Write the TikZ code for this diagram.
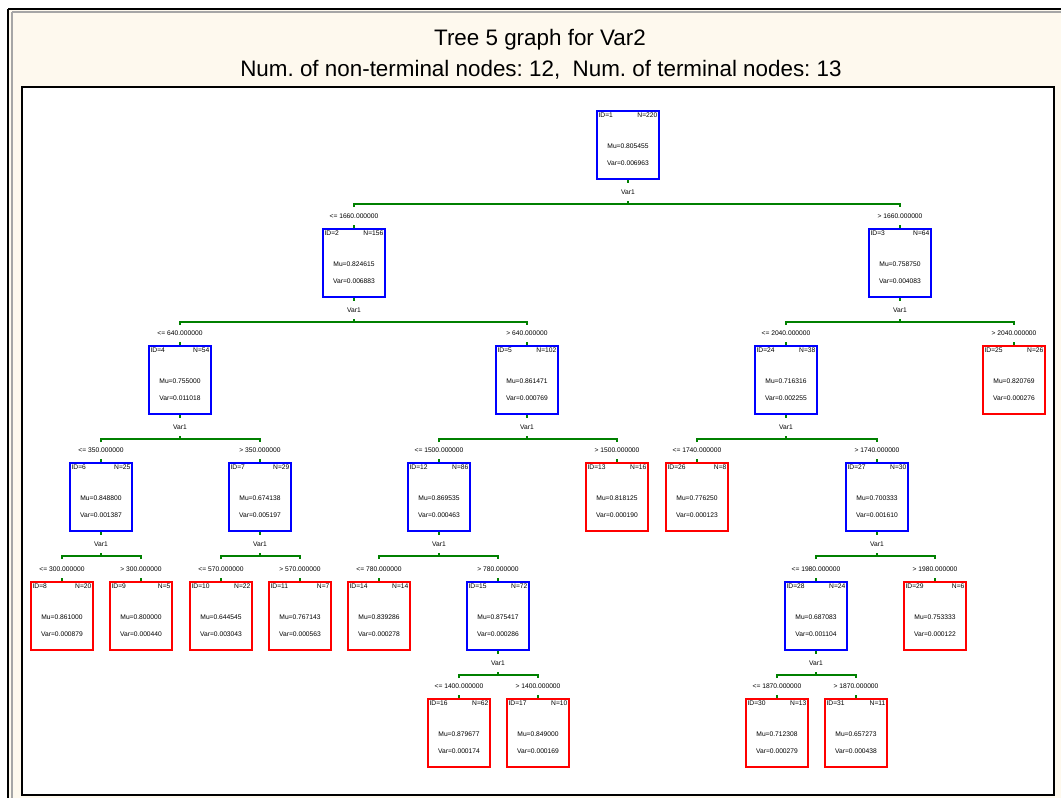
\documentclass[tikz,border=0pt]{standalone}
\usepackage{fontspec}
\setmainfont{Liberation Sans}
\frenchspacing
\definecolor{cream}{RGB}{254,249,238}
\definecolor{edgegreen}{RGB}{0,128,0}

% one tree node: name, x, y, style, id, n, mu, var
\newcommand{\treebox}[8]{%
  \node[#4] (#1) at (#2,#3) {};
  \node[tag, anchor=north west] (#1id) at ([shift={(0.6pt,-0.9pt)}]#1.north west) {ID=#5};
  \node[tag, anchor=north east] (#1n) at ([shift={(-0.6pt,-0.9pt)}]#1.north east) {N=#6};
  \node[tag] (#1mu) at ([yshift=-0.5pt]#1.center) {Mu=#7};
  \node[tag] (#1var) at ([yshift=-9pt]#1.center) {Var=#8};
}
% one split: parent, left child, right child, left cut, right cut
\newcommand{\treesplit}[5]{%
  \coordinate (#1bar) at ([yshift=-12pt]#1.south);
  \draw[conn] (#1.south) -- ++(0,3);
  \node[tag] (#1var1) at ([yshift=-6pt]#1.south) {Var1};
  \draw[conn] (#2 |- #1bar) ++(0,3) -- ++(0,-3) -- (#3 |- #1bar) -- ++(0,3);
  \draw[conn] (#1bar) -- ++(0,-3);
  \draw[conn] (#2.north) -- ++(0,-3);
  \draw[conn] (#3.north) -- ++(0,-3);
  \node[tag] (#2cut) at ([yshift=6pt]#2.north) {<= #4};
  \node[tag] (#3cut) at ([yshift=6pt]#3.north) {> #5};
}

\begin{document}
\begin{tikzpicture}[x=0.5pt, y=-0.5pt,
  inner/.style={draw=blue, line width=1pt, fill=white, inner sep=0pt,
    minimum width=31pt, minimum height=34pt},
  leaf/.style={inner, draw=red},
  tag/.style={font=\fontsize{3.35}{4}\selectfont, inner sep=0.5pt},
  conn/.style={draw=edgegreen, line width=1pt},
  heading/.style={font=\fontsize{11.2}{13}\selectfont, inner sep=0pt}]
\useasboundingbox (0,0) rectangle (1061,798);
% window frame
\fill[white] (0,0) rectangle (1061,798);
\fill[cream] (8,9) rectangle (1061,798);
\draw[gray!70, line width=1pt] (12,12) -- (12,798);
\draw[gray!70, line width=1pt] (12,12) -- (1061,12);
\draw[black, line width=1pt] (8,9) -- (8,798);
\draw[black, line width=1pt] (8,9) -- (1061,9);
\node[heading] (title) at (540,40) {Tree 5 graph for Var2};
\node[heading] (subtitle) at (541,70) {Num. of non-terminal nodes: 12,\ \ Num. of terminal nodes: 13};
% plot area
\fill[white] (22,87) rectangle (1054,795);
\draw[black, line width=1pt] (22,87) rectangle (1054,795);

% nodes
\treebox{n1}{628}{145}{inner}{1}{220}{0.805455}{0.006963}
\treebox{n2}{354}{263}{inner}{2}{156}{0.824615}{0.006883}
\treebox{n3}{900}{263}{inner}{3}{64}{0.758750}{0.004083}
\treebox{n4}{180}{380}{inner}{4}{54}{0.755000}{0.011018}
\treebox{n5}{527}{380}{inner}{5}{102}{0.861471}{0.000769}
\treebox{n24}{786}{380}{inner}{24}{38}{0.716316}{0.002255}
\treebox{n25}{1014}{380}{leaf}{25}{26}{0.820769}{0.000276}
\treebox{n6}{101}{497}{inner}{6}{25}{0.848800}{0.001387}
\treebox{n7}{260}{497}{inner}{7}{29}{0.674138}{0.005197}
\treebox{n12}{439}{497}{inner}{12}{86}{0.869535}{0.000463}
\treebox{n13}{617}{497}{leaf}{13}{16}{0.818125}{0.000190}
\treebox{n26}{697}{497}{leaf}{26}{8}{0.776250}{0.000123}
\treebox{n27}{877}{497}{inner}{27}{30}{0.700333}{0.001610}
\treebox{n8}{62}{616}{leaf}{8}{20}{0.861000}{0.000879}
\treebox{n9}{141}{616}{leaf}{9}{5}{0.800000}{0.000440}
\treebox{n10}{221}{616}{leaf}{10}{22}{0.644545}{0.003043}
\treebox{n11}{300}{616}{leaf}{11}{7}{0.767143}{0.000563}
\treebox{n14}{379}{616}{leaf}{14}{14}{0.839286}{0.000278}
\treebox{n15}{498}{616}{inner}{15}{72}{0.875417}{0.000286}
\treebox{n28}{816}{616}{inner}{28}{24}{0.687083}{0.001104}
\treebox{n29}{935}{616}{leaf}{29}{6}{0.753333}{0.000122}
\treebox{n16}{459}{733}{leaf}{16}{62}{0.879677}{0.000174}
\treebox{n17}{538}{733}{leaf}{17}{10}{0.849000}{0.000169}
\treebox{n30}{777}{733}{leaf}{30}{13}{0.712308}{0.000279}
\treebox{n31}{856}{733}{leaf}{31}{11}{0.657273}{0.000438}

% splits
\treesplit{n1}{n2}{n3}{1660.000000}{1660.000000}
\treesplit{n2}{n4}{n5}{640.000000}{640.000000}
\treesplit{n3}{n24}{n25}{2040.000000}{2040.000000}
\treesplit{n4}{n6}{n7}{350.000000}{350.000000}
\treesplit{n5}{n12}{n13}{1500.000000}{1500.000000}
\treesplit{n24}{n26}{n27}{1740.000000}{1740.000000}
\treesplit{n6}{n8}{n9}{300.000000}{300.000000}
\treesplit{n7}{n10}{n11}{570.000000}{570.000000}
\treesplit{n12}{n14}{n15}{780.000000}{780.000000}
\treesplit{n27}{n28}{n29}{1980.000000}{1980.000000}
\treesplit{n15}{n16}{n17}{1400.000000}{1400.000000}
\treesplit{n28}{n30}{n31}{1870.000000}{1870.000000}
\end{tikzpicture}
\end{document}
